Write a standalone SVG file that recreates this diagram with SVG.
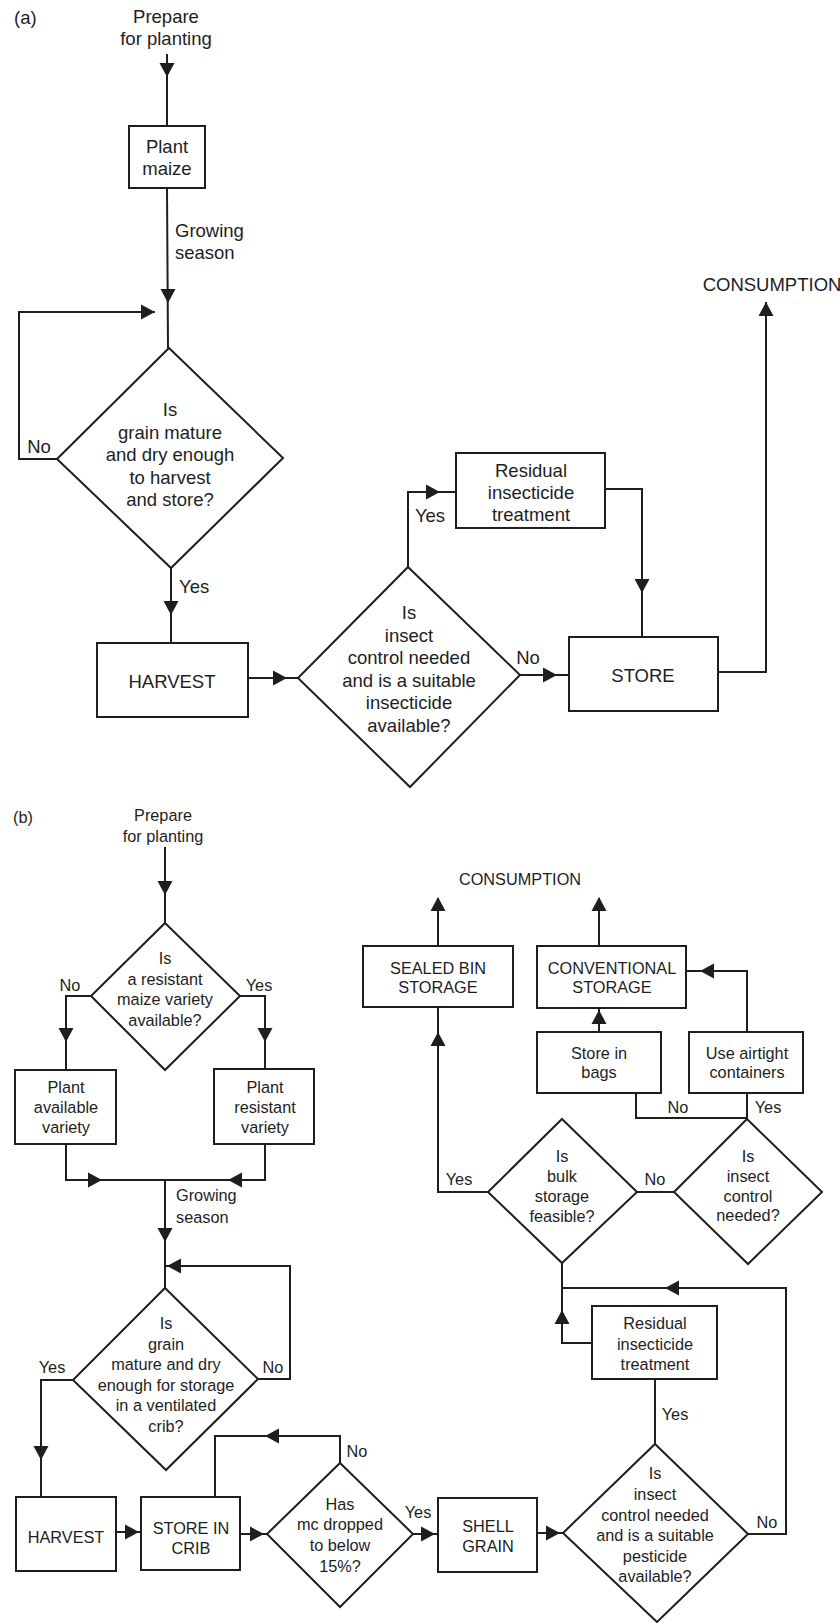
<svg xmlns="http://www.w3.org/2000/svg" xmlns:xlink="http://www.w3.org/1999/xlink" width="840" height="1623" viewBox="0 0 840 1623">
  <style>
    .box { fill: #fff; stroke: #1e1e1e; stroke-width: 2; }
    .dia { fill: #fff; stroke: #1e1e1e; stroke-width: 2; stroke-linejoin: miter; }
    .ln { fill: none; stroke: #1e1e1e; stroke-width: 2; }
    .ah { fill: #1e1e1e; }
    text { font-family: "Liberation Sans", Arial, sans-serif; fill: #1e1e1e; }
    .ta { font-size: 18.5px; }
    .tb { font-size: 16.3px; }
    .c { text-anchor: middle; }
  </style>
  <defs>
    <!-- filled arrowhead, tip at origin, pointing along +x -->
    <path id="ah" class="ah" d="M0,0 L-14,-7.5 L-14,7.5 Z"/>
  </defs>

  <rect width="840" height="1623" fill="#fff"/>

  <!-- ===================== Panel (a) ===================== -->
  <text class="ta" x="14" y="24">(a)</text>

  <g id="a-connectors">
    <path class="ln" d="M167,54 V126"/>
    <use xlink:href="#ah" transform="translate(167,77) rotate(90)"/>
    <path class="ln" d="M167,188 L168,348"/>
    <use xlink:href="#ah" transform="translate(168,303) rotate(90)"/>
    <path class="ln" d="M57,459 H19 V312 H155"/>
    <use xlink:href="#ah" transform="translate(155,312)"/>
    <path class="ln" d="M171,568 V643"/>
    <use xlink:href="#ah" transform="translate(171,615) rotate(90)"/>
    <path class="ln" d="M248,678 H298"/>
    <use xlink:href="#ah" transform="translate(287,678)"/>
    <path class="ln" d="M408,567 V492 H456"/>
    <use xlink:href="#ah" transform="translate(440,492)"/>
    <path class="ln" d="M605,489 H642 V637"/>
    <use xlink:href="#ah" transform="translate(642,593) rotate(90)"/>
    <path class="ln" d="M520,675 H569"/>
    <use xlink:href="#ah" transform="translate(557,675)"/>
    <path class="ln" d="M718,672 H766 V302"/>
    <use xlink:href="#ah" transform="translate(766,302) rotate(-90)"/>
  </g>

  <g id="a-labels">
    <text class="ta c" x="166" y="23">Prepare</text>
    <text class="ta c" x="166" y="45">for planting</text>
    <text class="ta" x="175" y="237">Growing</text>
    <text class="ta" x="175" y="259">season</text>
    <text class="ta c" x="39" y="453">No</text>
    <text class="ta" x="179" y="593">Yes</text>
    <text class="ta c" x="430" y="522">Yes</text>
    <text class="ta c" x="528" y="664">No</text>
    <text class="ta c" x="772" y="291">CONSUMPTION</text>
  </g>

  <g id="a-plant">
    <rect class="box" x="129" y="126" width="76" height="62"/>
    <text class="ta c" x="167" y="153">Plant</text>
    <text class="ta c" x="167" y="175">maize</text>
  </g>

  <g id="a-mature">
    <polygon class="dia" points="169,348 283,458 171,568 57,459"/>
    <text class="ta c" x="170" y="416">Is</text>
    <text class="ta c" x="170" y="438.5">grain mature</text>
    <text class="ta c" x="170" y="461">and dry enough</text>
    <text class="ta c" x="170" y="483.5">to harvest</text>
    <text class="ta c" x="170" y="506">and store?</text>
  </g>

  <g id="a-harvest">
    <rect class="box" x="97" y="643" width="151" height="74"/>
    <text class="ta c" x="172" y="688">HARVEST</text>
  </g>

  <g id="a-insect">
    <polygon class="dia" points="408,567 520,675 410,787 298,678"/>
    <text class="ta c" x="409" y="619">Is</text>
    <text class="ta c" x="409" y="641.5">insect</text>
    <text class="ta c" x="409" y="664">control needed</text>
    <text class="ta c" x="409" y="686.5">and is a suitable</text>
    <text class="ta c" x="409" y="709">insecticide</text>
    <text class="ta c" x="409" y="731.5">available?</text>
  </g>

  <g id="a-residual">
    <rect class="box" x="456" y="453" width="149" height="75"/>
    <text class="ta c" x="531" y="477">Residual</text>
    <text class="ta c" x="531" y="499">insecticide</text>
    <text class="ta c" x="531" y="521">treatment</text>
  </g>

  <g id="a-store">
    <rect class="box" x="569" y="637" width="149" height="74"/>
    <text class="ta c" x="643" y="682">STORE</text>
  </g>

  <!-- ===================== Panel (b) ===================== -->
  <text class="tb" x="13" y="823">(b)</text>

  <g id="b-connectors">
    <path class="ln" d="M165,847 V923"/>
    <use xlink:href="#ah" transform="translate(165,895) rotate(90)"/>
    <path class="ln" d="M91,996 H66 V1070"/>
    <use xlink:href="#ah" transform="translate(66,1042) rotate(90)"/>
    <path class="ln" d="M240,996 H265 V1069"/>
    <use xlink:href="#ah" transform="translate(265,1042) rotate(90)"/>
    <path class="ln" d="M66,1144 V1180 H265 V1144"/>
    <use xlink:href="#ah" transform="translate(102,1180)"/>
    <use xlink:href="#ah" transform="translate(228,1180) rotate(180)"/>
    <path class="ln" d="M165,1180 V1288"/>
    <use xlink:href="#ah" transform="translate(165,1242) rotate(90)"/>
    <path class="ln" d="M258,1379 H290 V1266 H165"/>
    <use xlink:href="#ah" transform="translate(167,1266) rotate(180)"/>
    <path class="ln" d="M73,1380 H41 V1497"/>
    <use xlink:href="#ah" transform="translate(41,1460) rotate(90)"/>
    <path class="ln" d="M116,1532 H141"/>
    <use xlink:href="#ah" transform="translate(139,1532)"/>
    <path class="ln" d="M240,1534 H267"/>
    <use xlink:href="#ah" transform="translate(264,1534)"/>
    <path class="ln" d="M340,1463 V1436 H215 V1497"/>
    <use xlink:href="#ah" transform="translate(265,1436) rotate(180)"/>
    <path class="ln" d="M413,1534 H438"/>
    <use xlink:href="#ah" transform="translate(435,1534)"/>
    <path class="ln" d="M537,1533 H563"/>
    <use xlink:href="#ah" transform="translate(560,1533)"/>
    <path class="ln" d="M655,1444 V1379"/>
    <path class="ln" d="M592,1343 H562 V1263"/>
    <use xlink:href="#ah" transform="translate(562,1310) rotate(-90)"/>
    <path class="ln" d="M748,1534 H786 V1288 H562"/>
    <use xlink:href="#ah" transform="translate(665,1288) rotate(180)"/>
    <path class="ln" d="M488,1192 H438 V1008"/>
    <use xlink:href="#ah" transform="translate(438,1032) rotate(-90)"/>
    <path class="ln" d="M438,946 V898"/>
    <use xlink:href="#ah" transform="translate(438,897) rotate(-90)"/>
    <path class="ln" d="M599,946 V898"/>
    <use xlink:href="#ah" transform="translate(599,897) rotate(-90)"/>
    <path class="ln" d="M599,1032 V1008"/>
    <use xlink:href="#ah" transform="translate(599,1010) rotate(-90)"/>
    <path class="ln" d="M747,1032 V971 H686"/>
    <use xlink:href="#ah" transform="translate(700,971) rotate(180)"/>
    <path class="ln" d="M637,1192 H674"/>
    <path class="ln" d="M747,1119 V1093"/>
    <path class="ln" d="M747,1118 H636 V1093"/>
  </g>

  <g id="b-labels">
    <text class="tb c" x="163" y="821">Prepare</text>
    <text class="tb c" x="163" y="842">for planting</text>
    <text class="tb c" x="70" y="991">No</text>
    <text class="tb c" x="259" y="991">Yes</text>
    <text class="tb" x="176" y="1201">Growing</text>
    <text class="tb" x="176" y="1223">season</text>
    <text class="tb c" x="273" y="1373">No</text>
    <text class="tb c" x="52" y="1373">Yes</text>
    <text class="tb c" x="357" y="1457">No</text>
    <text class="tb c" x="418" y="1518">Yes</text>
    <text class="tb c" x="675" y="1420">Yes</text>
    <text class="tb c" x="767" y="1528">No</text>
    <text class="tb c" x="459" y="1185">Yes</text>
    <text class="tb c" x="655" y="1185">No</text>
    <text class="tb c" x="768" y="1113">Yes</text>
    <text class="tb c" x="678" y="1113">No</text>
    <text class="tb c" x="520" y="885">CONSUMPTION</text>
  </g>

  <g id="b-resistant">
    <polygon class="dia" points="165,923 240,996 165,1070 91,996"/>
    <text class="tb c" x="165" y="964">Is</text>
    <text class="tb c" x="165" y="984.5">a resistant</text>
    <text class="tb c" x="165" y="1005">maize variety</text>
    <text class="tb c" x="165" y="1025.5">available?</text>
  </g>

  <g id="b-plant-available">
    <rect class="box" x="15" y="1070" width="101" height="74"/>
    <text class="tb c" x="66" y="1093">Plant</text>
    <text class="tb c" x="66" y="1113">available</text>
    <text class="tb c" x="66" y="1133">variety</text>
  </g>

  <g id="b-plant-resistant">
    <rect class="box" x="214" y="1069" width="100" height="75"/>
    <text class="tb c" x="265" y="1093">Plant</text>
    <text class="tb c" x="265" y="1113">resistant</text>
    <text class="tb c" x="265" y="1133">variety</text>
  </g>

  <g id="b-mature">
    <polygon class="dia" points="165,1288 258,1379 166,1470 73,1380"/>
    <text class="tb c" x="166" y="1329">Is</text>
    <text class="tb c" x="166" y="1349.5">grain</text>
    <text class="tb c" x="166" y="1370">mature and dry</text>
    <text class="tb c" x="166" y="1390.5">enough for storage</text>
    <text class="tb c" x="166" y="1411">in a ventilated</text>
    <text class="tb c" x="166" y="1431.5">crib?</text>
  </g>

  <g id="b-harvest">
    <rect class="box" x="16" y="1497" width="100" height="74"/>
    <text class="tb c" x="66" y="1543">HARVEST</text>
  </g>

  <g id="b-crib">
    <rect class="box" x="141" y="1497" width="99" height="73"/>
    <text class="tb c" x="191" y="1534">STORE IN</text>
    <text class="tb c" x="191" y="1554">CRIB</text>
  </g>

  <g id="b-mc">
    <polygon class="dia" points="340,1463 413,1534 340,1607 267,1534"/>
    <text class="tb c" x="340" y="1509.5">Has</text>
    <text class="tb c" x="340" y="1530">mc dropped</text>
    <text class="tb c" x="340" y="1551">to below</text>
    <text class="tb c" x="340" y="1571.5">15%?</text>
  </g>

  <g id="b-shell">
    <rect class="box" x="438" y="1498" width="99" height="74"/>
    <text class="tb c" x="488" y="1532">SHELL</text>
    <text class="tb c" x="488" y="1552">GRAIN</text>
  </g>

  <g id="b-pesticide">
    <polygon class="dia" points="655,1444 748,1534 657,1622 563,1533"/>
    <text class="tb c" x="655" y="1479">Is</text>
    <text class="tb c" x="655" y="1500">insect</text>
    <text class="tb c" x="655" y="1520.5">control needed</text>
    <text class="tb c" x="655" y="1541">and is a suitable</text>
    <text class="tb c" x="655" y="1561.5">pesticide</text>
    <text class="tb c" x="655" y="1582">available?</text>
  </g>

  <g id="b-residual">
    <rect class="box" x="592" y="1306" width="125" height="73"/>
    <text class="tb c" x="655" y="1329">Residual</text>
    <text class="tb c" x="655" y="1350">insecticide</text>
    <text class="tb c" x="655" y="1370">treatment</text>
  </g>

  <g id="b-bulk">
    <polygon class="dia" points="562,1119 637,1192 562,1263 488,1192"/>
    <text class="tb c" x="562" y="1162">Is</text>
    <text class="tb c" x="562" y="1182">bulk</text>
    <text class="tb c" x="562" y="1202">storage</text>
    <text class="tb c" x="562" y="1222">feasible?</text>
  </g>

  <g id="b-insect">
    <polygon class="dia" points="747,1119 822,1192 748,1264 674,1192"/>
    <text class="tb c" x="748" y="1162">Is</text>
    <text class="tb c" x="748" y="1182">insect</text>
    <text class="tb c" x="748" y="1202">control</text>
    <text class="tb c" x="748" y="1221">needed?</text>
  </g>

  <g id="b-sealed">
    <rect class="box" x="363" y="946" width="150" height="61"/>
    <text class="tb c" x="438" y="974">SEALED BIN</text>
    <text class="tb c" x="438" y="993">STORAGE</text>
  </g>

  <g id="b-conventional">
    <rect class="box" x="537" y="946" width="149" height="62"/>
    <text class="tb c" x="612" y="974">CONVENTIONAL</text>
    <text class="tb c" x="612" y="993">STORAGE</text>
  </g>

  <g id="b-bags">
    <rect class="box" x="537" y="1032" width="124" height="61"/>
    <text class="tb c" x="599" y="1059">Store in</text>
    <text class="tb c" x="599" y="1078">bags</text>
  </g>

  <g id="b-airtight">
    <rect class="box" x="689" y="1032" width="114" height="61"/>
    <text class="tb c" x="747" y="1059">Use airtight</text>
    <text class="tb c" x="747" y="1078">containers</text>
  </g>
</svg>
